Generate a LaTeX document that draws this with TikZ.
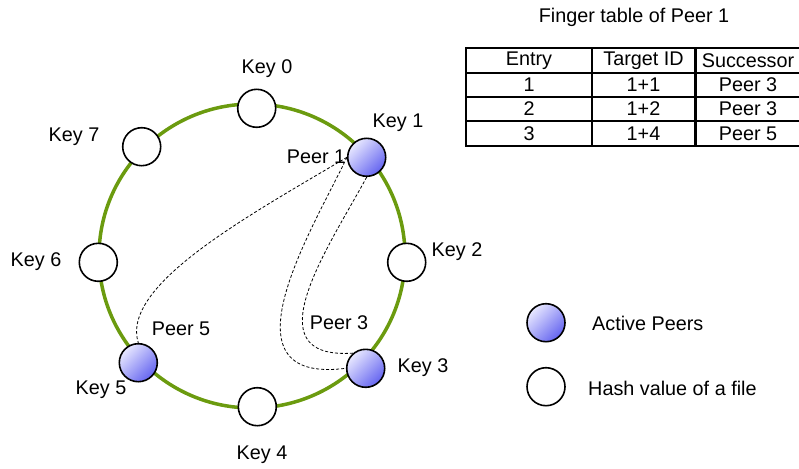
\documentclass[tikz,border=0pt]{standalone}
\usepackage{fontspec}
\setmainfont{Liberation Sans}

\definecolor{ringgreen}{RGB}{107,155,15}
\definecolor{peerlight}{RGB}{232,232,255}
\definecolor{peerdark}{RGB}{100,100,240}

\begin{document}
\begin{tikzpicture}[x=1pt, y=-1pt]
    % Define styles
    \tikzstyle{keynode} = [circle, minimum size=38pt, inner sep=0pt, draw=black, line width=1.6pt, fill=white]
    \tikzstyle{peernode} = [keynode, top color=peerlight, bottom color=peerdark, shading angle=45]
    \tikzstyle{tag} = [font=\fontsize{19.8}{23}\selectfont, inner sep=0pt]
    \tikzstyle{cell} = [rectangle, draw=black, line width=1.5pt, inner sep=0pt, font=\fontsize{19.8}{23}\selectfont]
    % last column runs off the right edge
    \tikzstyle{lastcell} = [cell, minimum width=130pt, anchor=west]
    \tikzstyle{finger} = [black, line width=0.8pt, dash pattern=on 3pt off 2pt]

    \useasboundingbox (0,0) rectangle (799,468);

    % The ring
    \draw[ringgreen, line width=3.5pt] (252,256) ellipse [x radius=153pt, y radius=152pt];

    % Keys on the ring
    \node[keynode] (k0) at (256.7,108.3) {};
    \node[keynode] (k2) at (406.7,262.3) {};
    \node[keynode] (k4) at (257.3,406.7) {};
    \node[keynode] (k6) at (98.3,262.3) {};
    \node[keynode] (k7) at (141.7,146.7) {};

    % Peers on the ring
    \node[peernode] (p1) at (366.7,157.3) {};
    \node[peernode] (p3) at (365.7,368.3) {};
    \node[peernode] (p5) at (138.3,362.7) {};

    % Labels
    \node[tag] (lk0) at (267,69) {Key 0};
    \node[tag] (lk1) at (398,123) {Key 1};
    \node[tag] (lk2) at (457,252) {Key 2};
    \node[tag] (lk3) at (423,368) {Key 3};
    \node[tag] (lk4) at (262,455) {Key 4};
    \node[tag] (lk5) at (101,390) {Key 5};
    \node[tag] (lk6) at (36,262) {Key 6};
    \node[tag] (lk7) at (74,137) {Key 7};
    \node[tag] (lp1) at (316,157) {Peer 1};
    \node[tag] (lp3) at (339,323) {Peer 3};
    \node[tag] (lp5) at (181,329) {Peer 5};

    % Fingers of peer 1
    \draw[finger] (p1.west) .. controls (250,215) and (120,285) .. (p5.north);
    \draw[finger] (p1.west) .. controls (315,225) and (215,385) .. (p3.west);
    \draw[finger] (p1.south) .. controls (330,245) and (250,360) .. (p3.130);

    % Finger table
    \node[tag] (title) at (634,17) {Finger table of Peer 1};

    % Header row
    \node[cell, minimum width=126pt, minimum height=25pt] (h1) at (529,60.5) {Entry};
    \node[cell, minimum width=103pt, minimum height=25pt] (h2) at (643.5,60.5) {Target ID};
    \node[lastcell, minimum height=25pt] (h3) at (695,60.5) {};
    \node[tag] (h3t) at (748,60.5) {Successor};

    % Row 1
    \node[cell, minimum width=126pt, minimum height=24pt] (r11) at (529,85) {1};
    \node[cell, minimum width=103pt, minimum height=24pt] (r12) at (643.5,85) {1+1};
    \node[lastcell, minimum height=24pt] (r13) at (695,85) {};
    \node[tag] (r13t) at (748,85) {Peer 3};

    % Row 2
    \node[cell, minimum width=126pt, minimum height=24pt] (r21) at (529,109) {2};
    \node[cell, minimum width=103pt, minimum height=24pt] (r22) at (643.5,109) {1+2};
    \node[lastcell, minimum height=24pt] (r23) at (695,109) {};
    \node[tag] (r23t) at (748,109) {Peer 3};

    % Row 3
    \node[cell, minimum width=126pt, minimum height=25pt] (r31) at (529,133.5) {3};
    \node[cell, minimum width=103pt, minimum height=25pt] (r32) at (643.5,133.5) {1+4};
    \node[lastcell, minimum height=25pt] (r33) at (695,133.5) {};
    \node[tag] (r33t) at (748,133.5) {Peer 5};

    % Legend
    \node[peernode] (lpeer) at (546,322.7) {};
    \node[tag, anchor=west] (lpeertext) at (592,323) {Active Peers};
    \node[keynode] (lhash) at (546,386.7) {};
    \node[tag, anchor=west] (lhashtext) at (588,388) {Hash value of a file};

\end{tikzpicture}
\end{document}
